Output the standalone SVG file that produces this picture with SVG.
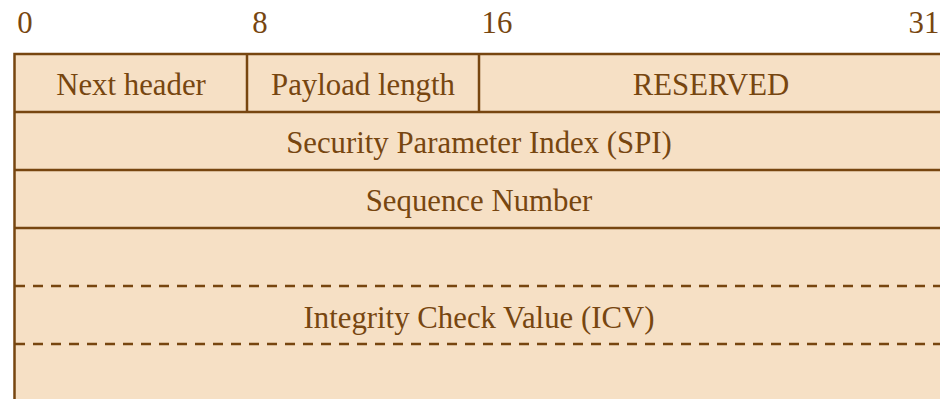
<svg xmlns="http://www.w3.org/2000/svg" width="940" height="399" viewBox="0 0 940 399">
  <style>
    .t { font-family: "Liberation Serif", "Times New Roman", serif; font-size: 30.8px; fill: #774610; text-anchor: middle; }
    .cell { fill: #F6E0C5; stroke: #774610; stroke-width: 2.5; }
    .line { stroke: #774610; stroke-width: 2.5; fill: none; }
    .dash { stroke: #774610; stroke-width: 2.5; fill: none; stroke-dasharray: 10 8; }
  </style>

  <!-- bit position ruler -->
  <g id="ruler">
    <text class="t" x="25" y="33">0</text>
    <text class="t" x="260" y="33">8</text>
    <text class="t" x="497" y="33">16</text>
    <text class="t" x="924" y="33">31</text>
  </g>

  <!-- header background -->
  <rect class="cell" x="14.5" y="54" width="940" height="360"/>

  <g id="next-header">
    <text class="t" x="131" y="95">Next header</text>
  </g>
  <g id="payload-length">
    <text class="t" x="363" y="95">Payload length</text>
  </g>
  <g id="reserved">
    <text class="t" x="711" y="95">RESERVED</text>
  </g>
  <g id="spi">
    <text class="t" x="479" y="153">Security Parameter Index (SPI)</text>
  </g>
  <g id="sequence-number">
    <text class="t" x="479" y="211">Sequence Number</text>
  </g>
  <g id="icv">
    <text class="t" x="479" y="328">Integrity Check Value (ICV)</text>
  </g>

  <!-- field boundaries -->
  <g id="connectors">
    <line class="line" x1="247" y1="54" x2="247" y2="112"/>
    <line class="line" x1="479" y1="54" x2="479" y2="112"/>
    <line class="line" x1="14.5" y1="112" x2="940" y2="112"/>
    <line class="line" x1="14.5" y1="170" x2="940" y2="170"/>
    <line class="line" x1="14.5" y1="228" x2="940" y2="228"/>
    <line class="dash" x1="15" y1="286" x2="940" y2="286"/>
    <line class="dash" x1="15" y1="344" x2="940" y2="344"/>
  </g>
</svg>
